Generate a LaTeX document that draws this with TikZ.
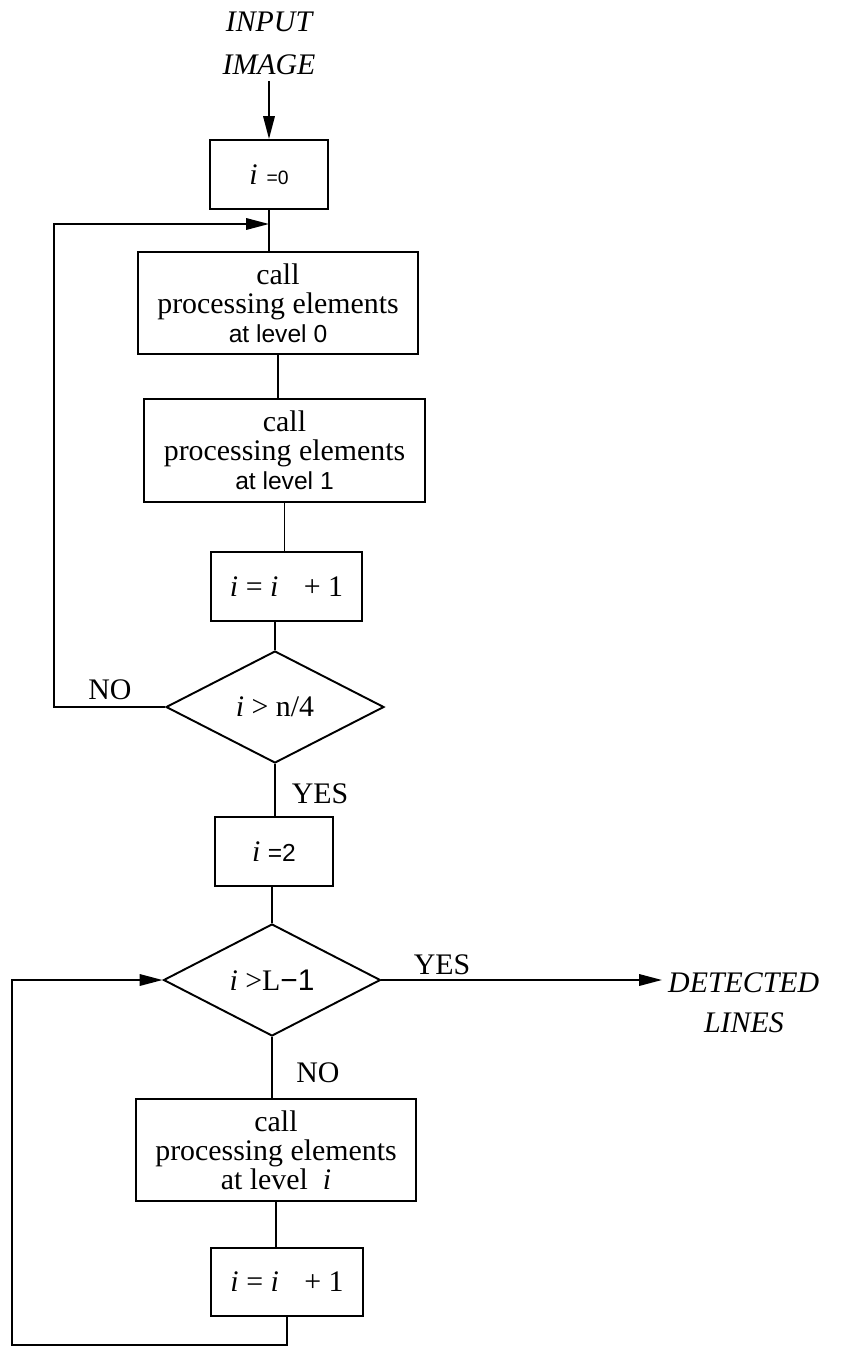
\documentclass[tikz,border=0pt]{standalone}
\usepackage{fontspec}
\setmainfont{Liberation Serif}
\setsansfont{Liberation Sans}
\usepackage{tikz}
\usetikzlibrary{arrows.meta,shapes.geometric}
\newcommand{\sfsmall}{\sffamily\fontsize{14}{14}\selectfont}
\tikzset{
  box/.style={draw, line width=1.1pt, align=center, inner sep=2pt, font=\fontsize{17}{16.5}\selectfont},
  decision/.style={diamond, draw, line width=1.1pt, align=center, inner sep=0pt, aspect=1.94, font=\fontsize{17}{17}\selectfont},
  tag/.style={font=\fontsize{17}{17}\selectfont},
  outtext/.style={align=center, font=\fontsize{17}{24.4}\selectfont\itshape},
  arrow/.style={-{Triangle[length=13pt,width=6.5pt]}, line width=1.1pt},
  conn/.style={line width=1.1pt}
}
\begin{document}
\begin{tikzpicture}[x=0.02cm, y=-0.02cm]
  \useasboundingbox (0,0) rectangle (845,1348);
  \node[outtext] (input) at (269,43.5) {INPUT\\IMAGE};

  \node[box, minimum width=2.36cm, minimum height=1.38cm] (start) at (269,174.5) {\textit{i}\hspace{5pt}{\sffamily\fontsize{11}{11}\selectfont =0}};
  \node[box, minimum width=5.6cm, minimum height=2.04cm] (lvl0) at (278,303) {call\\processing elements\\{\sfsmall at level 0}};
  \node[box, minimum width=5.62cm, minimum height=2.06cm] (lvl1) at (284.5,450.5) {call\\processing elements\\{\sfsmall at level 1}};
  \node[box, minimum width=3.02cm, minimum height=1.38cm] (inc1) at (286.5,586.5) {\textit{i} = \textit{i}\hspace{0.6em} + 1};
  \node[decision, minimum width=4.36cm, minimum height=2.24cm] (test1) at (275,707) {\textit{i} > n/4};
  \node[box, minimum width=2.36cm, minimum height=1.38cm] (reset) at (274,851.5) {\textit{i} {\sfsmall =2}};
  \node[decision, minimum width=4.34cm, minimum height=2.24cm] (test2) at (272,980) {\textit{i} >L{\sffamily −1}};
  \node[box, minimum width=5.6cm, minimum height=2.04cm] (lvli) at (276,1150) {call\\processing elements\\at level\hspace{0.5em}\textit{i}};
  \node[box, minimum width=3.04cm, minimum height=1.36cm] (inc2) at (287,1282) {\textit{i} = \textit{i}\hspace{0.6em} + 1};
  \node[outtext, anchor=west, align=left, font=\fontsize{17}{22.7}\selectfont\itshape] (result) at (662,1003) {DETECTED\\\hspace{1.2em}LINES};

  \node[tag] (no1) at (110,690) {NO};
  \node[tag] (yes1) at (320,794) {YES};
  \node[tag] (yes2) at (442,965) {YES};
  \node[tag] (no2) at (318,1073) {NO};

  \coordinate (join1) at (269,224);
  \coordinate (loop1) at (54,400);
  \coordinate (loop2) at (12,1345);

  \draw[arrow] (input.south) -- (input.south |- start.north);
  \draw[conn] (start.south) -- (start.south |- lvl0.north);
  \draw[conn] (lvl0.south) -- (lvl0.south |- lvl1.north);
  \draw[conn] (lvl1.south) -- (lvl1.south |- inc1.north);
  \draw[conn] (test1.north) -- (test1.north |- inc1.south);
  \draw[arrow] (test1.west) -| (loop1) |- (join1);
  \draw[conn] (test1.south) -- (test1.south |- reset.north);
  \draw[conn] (test2.north) -- (test2.north |- reset.south);
  \draw[arrow] (test2.east) -- (test2.east -| result.west);
  \draw[conn] (test2.south) -- (test2.south |- lvli.north);
  \draw[conn] (lvli.south) -- (lvli.south |- inc2.north);
  \draw[arrow] (inc2.south) |- (loop2) |- (test2.west);
\end{tikzpicture}
\end{document}
